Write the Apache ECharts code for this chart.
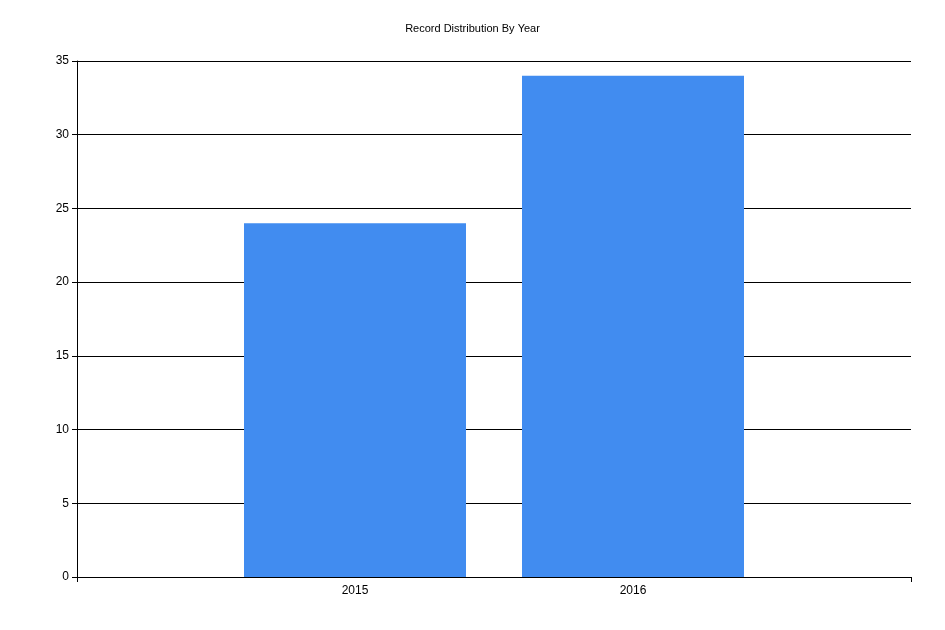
<!DOCTYPE html>
<html><head><meta charset="utf-8">
<script src="https://cdn.jsdelivr.net/npm/echarts@6/dist/echarts.min.js"></script>
<style>html,body{margin:0;padding:0;background:#fff}#c{width:945px;height:630px}</style>
</head><body><div id="c"></div>
<script>
const categories = ['2015', '2016'];
const values = [24, 34];
const positions = [1, 2];
const chart = echarts.init(document.getElementById('c'));
chart.setOption({
  animation: false,
  title: { text: 'Record Distribution By Year', left: 'center', top: 18,
    textStyle: { fontSize: 11, fontWeight: 'normal', color: '#000', fontFamily: 'Liberation Sans' } },
  grid: { left: 77, right: 34, top: 61, bottom: 53 },
  xAxis: {
    type: 'value', min: 0, max: 3, interval: 1,
    splitLine: { show: false },
    axisLine: { lineStyle: { color: '#000' } },
    axisTick: { show: true, length: 5, customValues: [0, 3], lineStyle: { color: '#000' } },
    axisLabel: { customValues: positions, color: '#000', fontSize: 12, fontFamily: 'Liberation Sans',
      formatter: v => categories[positions.indexOf(v)] ?? '' }
  },
  yAxis: {
    type: 'value', min: 0, max: 35, interval: 5,
    axisLine: { show: true, lineStyle: { color: '#000' } },
    axisTick: { show: true, length: 5, lineStyle: { color: '#000' } },
    splitLine: { lineStyle: { color: '#000' } },
    axisLabel: { color: '#000', fontSize: 12, fontFamily: 'Liberation Sans', margin: 8 }
  },
  series: [{
    type: 'bar', barWidth: 222,
    data: positions.map((p, i) => [p, values[i]]),
    itemStyle: { color: '#418CF0' }
  }]
});
</script></body></html>
